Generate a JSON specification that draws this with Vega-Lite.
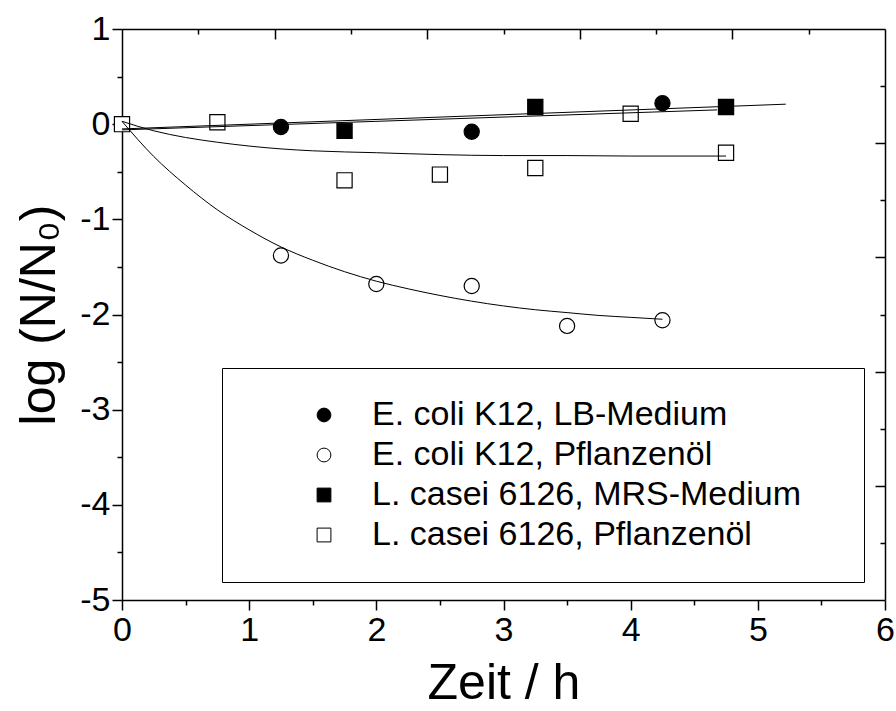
{
  "$schema": "https://vega.github.io/schema/vega-lite/v6.json",
  "width": 763,
  "height": 571,
  "autosize": {"type": "none"},
  "padding": {"left": 122, "top": 29, "right": 11, "bottom": 111},
  "background": "white",
  "config": {
    "view": {"stroke": null},
    "axis": {
      "grid": false,
      "domainColor": "black",
      "tickColor": "black",
      "labelColor": "black",
      "titleColor": "black",
      "labelFont": "Liberation Sans",
      "titleFont": "Liberation Sans",
      "labelFontSize": 34,
      "titleFontSize": 50,
      "titleFontWeight": "normal",
      "domainWidth": 1.5,
      "tickWidth": 1.5,
      "labelFlush": false,
      "labelOverlap": false,
      "labelBound": false
    }
  },
  "datasets": {
    "pts": [
      {"series": "E. coli K12, LB-Medium", "t": 1.25, "v": -0.03},
      {"series": "E. coli K12, LB-Medium", "t": 2.75, "v": -0.08},
      {"series": "E. coli K12, LB-Medium", "t": 4.25, "v": 0.22},
      {"series": "E. coli K12, Pflanzenöl", "t": 1.25, "v": -1.38},
      {"series": "E. coli K12, Pflanzenöl", "t": 2.0, "v": -1.68},
      {"series": "E. coli K12, Pflanzenöl", "t": 2.75, "v": -1.70},
      {"series": "E. coli K12, Pflanzenöl", "t": 3.5, "v": -2.12},
      {"series": "E. coli K12, Pflanzenöl", "t": 4.25, "v": -2.06},
      {"series": "L. casei 6126, MRS-Medium", "t": 1.75, "v": -0.07},
      {"series": "L. casei 6126, MRS-Medium", "t": 3.25, "v": 0.18},
      {"series": "L. casei 6126, MRS-Medium", "t": 4.75, "v": 0.18},
      {"series": "L. casei 6126, Pflanzenöl", "t": 0.0, "v": 0.0},
      {"series": "L. casei 6126, Pflanzenöl", "t": 0.75, "v": 0.02},
      {"series": "L. casei 6126, Pflanzenöl", "t": 1.75, "v": -0.59},
      {"series": "L. casei 6126, Pflanzenöl", "t": 2.5, "v": -0.53},
      {"series": "L. casei 6126, Pflanzenöl", "t": 3.25, "v": -0.46},
      {"series": "L. casei 6126, Pflanzenöl", "t": 4.0, "v": 0.11},
      {"series": "L. casei 6126, Pflanzenöl", "t": 4.75, "v": -0.30}
    ],
    "fits": [
      {"curve": "a", "t": 0.0, "v": -0.05},
      {"curve": "a", "t": 5.22, "v": 0.21},
      {"curve": "b", "t": 0.0, "v": -0.06},
      {"curve": "b", "t": 4.68, "v": 0.15},
      {"curve": "c", "t": 0.0, "v": 0.03},
      {"curve": "c", "t": 0.25, "v": -0.34},
      {"curve": "c", "t": 0.5, "v": -0.64},
      {"curve": "c", "t": 0.75, "v": -0.90},
      {"curve": "c", "t": 1.0, "v": -1.11},
      {"curve": "c", "t": 1.25, "v": -1.29},
      {"curve": "c", "t": 1.5, "v": -1.43},
      {"curve": "c", "t": 1.75, "v": -1.55},
      {"curve": "c", "t": 2.0, "v": -1.65},
      {"curve": "c", "t": 2.25, "v": -1.73},
      {"curve": "c", "t": 2.5, "v": -1.80},
      {"curve": "c", "t": 2.75, "v": -1.86},
      {"curve": "c", "t": 3.0, "v": -1.91},
      {"curve": "c", "t": 3.25, "v": -1.95},
      {"curve": "c", "t": 3.5, "v": -1.98},
      {"curve": "c", "t": 3.75, "v": -2.01},
      {"curve": "c", "t": 4.0, "v": -2.03},
      {"curve": "c", "t": 4.25, "v": -2.05},
      {"curve": "d", "t": 0.0, "v": 0.03},
      {"curve": "d", "t": 0.25, "v": -0.07},
      {"curve": "d", "t": 0.5, "v": -0.14},
      {"curve": "d", "t": 0.75, "v": -0.19},
      {"curve": "d", "t": 1.0, "v": -0.23},
      {"curve": "d", "t": 1.25, "v": -0.26},
      {"curve": "d", "t": 1.5, "v": -0.28},
      {"curve": "d", "t": 2.0, "v": -0.30},
      {"curve": "d", "t": 2.5, "v": -0.32},
      {"curve": "d", "t": 3.0, "v": -0.33},
      {"curve": "d", "t": 3.5, "v": -0.33},
      {"curve": "d", "t": 4.0, "v": -0.335},
      {"curve": "d", "t": 4.75, "v": -0.335}
    ]
  },
  "resolve": {"axis": {"x": "independent", "y": "independent"}},
  "layer": [
    {
      "data": {"name": "pts"},
      "mark": {"type": "point", "size": 230, "opacity": 1, "fillOpacity": 1, "strokeWidth": 1.2},
      "encoding": {
        "x": {
          "field": "t", "type": "quantitative",
          "scale": {"domain": [0, 6], "nice": false, "zero": false},
          "axis": {"orient": "bottom", "values": [0, 1, 2, 3, 4, 5, 6], "tickSize": 10, "labelPadding": 3, "title": "Zeit / h", "titlePadding": 11}
        },
        "y": {
          "field": "v", "type": "quantitative",
          "scale": {"domain": [-5, 1], "nice": false, "zero": false},
          "axis": {"orient": "left", "values": [-5, -4, -3, -2, -1, 0, 1], "tickSize": 10, "labelPadding": 2, "title": "log (N/N₀)", "titlePadding": 15,
                   "labelExpr": "datum.value < 0 ? '-' + abs(datum.value) : '' + datum.value"}
        },
        "shape": {
          "field": "series", "type": "nominal",
          "scale": {"domain": ["E. coli K12, LB-Medium", "E. coli K12, Pflanzenöl", "L. casei 6126, MRS-Medium", "L. casei 6126, Pflanzenöl"], "range": ["circle", "circle", "square", "square"]},
          "legend": {
            "title": "\u00a0", "titleOrient": "right", "titlePadding": 33, "titleFontSize": 10,
            "orient": "none", "legendX": 100, "legendY": 339,
            "padding": 30, "strokeColor": "black", "fillColor": "white",
            "symbolOffset": 55, "labelOffset": 31, "symbolSize": 190,
            "symbolStrokeWidth": 1,
            "labelFont": "Liberation Sans", "labelFontSize": 34, "labelColor": "black",
            "rowPadding": 6, "labelLimit": 0
          }
        },
        "fill": {
          "field": "series", "type": "nominal",
          "scale": {"domain": ["E. coli K12, LB-Medium", "E. coli K12, Pflanzenöl", "L. casei 6126, MRS-Medium", "L. casei 6126, Pflanzenöl"], "range": ["black", "white", "black", "white"]}
        },
        "stroke": {
          "field": "series", "type": "nominal",
          "scale": {"domain": ["E. coli K12, LB-Medium", "E. coli K12, Pflanzenöl", "L. casei 6126, MRS-Medium", "L. casei 6126, Pflanzenöl"], "range": ["black", "black", "black", "black"]}
        }
      }
    },
    {
      "data": {"name": "fits"},
      "mark": {"type": "line", "color": "black", "strokeWidth": 1, "interpolate": "monotone"},
      "encoding": {
        "x": {"field": "t", "type": "quantitative", "axis": {"orient": "bottom", "values": [0.5, 1.5, 2.5, 3.5, 4.5, 5.5], "tickSize": 5, "labels": false, "domain": false, "title": null}},
        "y": {"field": "v", "type": "quantitative", "axis": {"orient": "left", "values": [-4.5, -3.5, -2.5, -1.5, -0.5, 0.5], "tickSize": 5, "labels": false, "domain": false, "title": null}},
        "detail": {"field": "curve", "type": "nominal"}
      }
    },
    {
      "data": {"name": "fits"},
      "mark": {"type": "point", "opacity": 0},
      "encoding": {
        "x": {"field": "t", "type": "quantitative", "axis": {"orient": "top", "values": [1.2, 2.4, 3.6, 4.8], "tickSize": -10, "labels": false, "title": null}},
        "y": {"field": "v", "type": "quantitative", "axis": {"orient": "right", "values": [-0.2, -1.4, -2.6, -3.8], "tickSize": -10, "labels": false, "title": null}}
      }
    },
    {
      "data": {"name": "fits"},
      "mark": {"type": "point", "opacity": 0},
      "encoding": {
        "x": {"field": "t", "type": "quantitative", "axis": {"orient": "top", "values": [0.6, 1.8, 3.0, 4.2, 5.4], "tickSize": -5, "labels": false, "domain": false, "title": null}},
        "y": {"field": "v", "type": "quantitative", "axis": {"orient": "right", "values": [0.4, -0.8, -2.0, -3.2, -4.4], "tickSize": -5, "labels": false, "domain": false, "title": null}}
      }
    }
  ]
}
